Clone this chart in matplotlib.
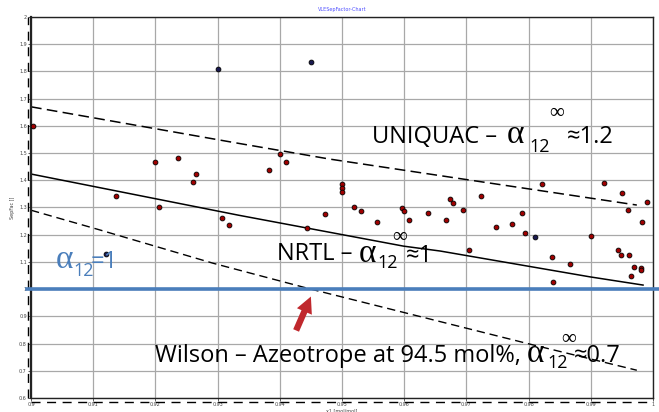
import matplotlib
matplotlib.use("Agg")
import matplotlib.pyplot as plt

# measured separation factors (red points)
meas_x = [0.9003, 0.9137, 0.9200, 0.9205, 0.9237, 0.9260, 0.9266, 0.9307, 0.9319,
          0.9383, 0.9400, 0.9410, 0.9443, 0.9472, 0.9500, 0.9500, 0.9500, 0.9519,
          0.9530, 0.9556, 0.9596, 0.9600, 0.9607, 0.9638, 0.9668, 0.9673, 0.9679,
          0.9695, 0.9704, 0.9724, 0.9747, 0.9773, 0.9789, 0.9794, 0.9821, 0.9838,
          0.9840, 0.9867, 0.9901, 0.9921, 0.9943, 0.9949, 0.9950, 0.9960, 0.9961,
          0.9965, 0.9970, 0.9980, 0.9980, 0.9982, 0.9991]
meas_y = [1.600, 1.343, 1.467, 1.300, 1.483, 1.394, 1.423, 1.262, 1.234,
          1.436, 1.495, 1.468, 1.224, 1.276, 1.387, 1.370, 1.358, 1.300,
          1.288, 1.245, 1.297, 1.287, 1.253, 1.281, 1.253, 1.332, 1.316,
          1.290, 1.143, 1.344, 1.229, 1.240, 1.278, 1.206, 1.385, 1.119,
          1.026, 1.093, 1.194, 1.390, 1.143, 1.127, 1.353, 1.289, 1.124,
          1.049, 1.080, 1.078, 1.070, 1.245, 1.320]

# other points (dark)
dark_x = [0.9120, 0.9300, 0.9450, 0.9810]
dark_y = [1.128, 1.809, 1.833, 1.192]

# model curves
uniquac_x = [0.9, 0.9333, 0.948, 0.9658, 0.9974]
uniquac_y = [1.670, 1.536, 1.478, 1.417, 1.309]
nrtl_x = [0.9, 0.9333, 0.9599, 0.9658, 0.9899, 0.9984]
nrtl_y = [1.423, 1.272, 1.158, 1.140, 1.045, 1.015]
wilson_x = [0.9, 0.911, 0.9293, 0.945, 0.9802, 0.9974]
wilson_y = [1.290, 1.218, 1.095, 1.000, 0.798, 0.702]

xticks = [0.9, 0.91, 0.92, 0.93, 0.94, 0.95, 0.96, 0.97, 0.98, 0.99, 1.0]
xtick_labels = ["0.9", "0.91", "0.92", "0.93", "0.94", "0.95", "0.96", "0.97", "0.98", "0.99", "1"]
yticks = [0.6, 0.7, 0.8, 0.9, 1.0, 1.1, 1.2, 1.3, 1.4, 1.5, 1.6, 1.7, 1.8, 1.9, 2.0]
ytick_labels = ["0.6", "0.7", "0.8", "0.9", "1", "1.1", "1.2", "1.3", "1.4", "1.5",
                "1.6", "1.7", "1.8", "1.9", "2"]

W, H = 659, 412
fig = plt.figure(figsize=(W / 100, H / 100), dpi=100)
L, R, T, B = 31, 653, 17, 398
ax = fig.add_axes([L / W, 1 - B / H, (R - L) / W, (B - T) / H])
ax.set_xlim(0.9, 1.0)
ax.set_ylim(0.6, 2.0)


def px2data(px, py):
    x = 0.9 + (px - L) / (R - L) * 0.1
    y = 0.6 + (B - py) / (B - T) * 1.4
    return x, y


ax.set_xticks(xticks)
ax.set_xticklabels(xtick_labels)
ax.set_yticks(yticks)
ax.set_yticklabels(ytick_labels)
ax.tick_params(labelsize=3.5, colors="#444444", length=2, width=0.6, pad=1)
ax.grid(True, color="#a8a8a8", linewidth=0.9)
ax.set_axisbelow(True)
for s in ax.spines.values():
    s.set_color("#222222")
    s.set_linewidth(1.0)
ax.spines["left"].set_linewidth(1.6)

# dashed frame lines just outside the axes
ax.plot([0.0, 1.0], [-0.011, -0.011], transform=ax.transAxes, clip_on=False,
        color="black", lw=1.0, dashes=(6.5, 4.7))
ax.plot([-0.005, -0.005], [0.0, 1.0], transform=ax.transAxes, clip_on=False,
        color="black", lw=1.0, dashes=(6.5, 4.7))

ax.set_title("VLESepFactor-Chart", fontsize=3.5, color="#5050ff", pad=4)
ax.set_ylabel("SepFac []", fontsize=3.5, color="#444444", labelpad=3)
ax.set_xlabel("x1 [mol/mol]", fontsize=3.5, color="#444444", labelpad=0.5)

# model lines
ax.plot(uniquac_x, uniquac_y, color="black", lw=1.1, dashes=(7, 3.5))
ax.plot(nrtl_x, nrtl_y, color="black", lw=1.1)
ax.plot(wilson_x, wilson_y, color="black", lw=1.0, dashes=(6, 3.5))

# alpha = 1 line
ax.axhline(1.0, xmin=-0.007, xmax=1.01, color="#4a7ebb", lw=2.6, clip_on=False, zorder=4)

ax.scatter(meas_x, meas_y, s=12, c="#a00000", edgecolors="black", linewidths=0.6, zorder=5)
ax.scatter(dark_x, dark_y, s=12, c="#1a1a50", edgecolors="black", linewidths=0.6, zorder=5)

main_font = dict(family=["Open Sans", "DejaVu Sans"], fontsize=17)
alpha_font = dict(family=["Liberation Serif", "DejaVu Serif"], fontsize=24)
sub_font = dict(family=["Open Sans", "DejaVu Sans"], fontsize=13)
inf_font = dict(family=["Liberation Serif", "DejaVu Sans"], fontsize=15)


def put(px, py, s, font, color="black"):
    x, y = px2data(px, py)
    ax.text(x, y, s, ha="left", va="baseline", color=color, zorder=6, **font)


def label(parts, color="black"):
    for px, py, s, font in parts:
        put(px, py, s, font, color)


label([(372, 143, "UNIQUAC –", main_font),
       (507, 143, "α", alpha_font),
       (529, 152, "12", sub_font),
       (549, 118, "∞", inf_font),
       (567, 143, "≈1.2", main_font)])
label([(277, 260, "NRTL –", main_font),
       (359, 262, "α", alpha_font),
       (377, 268, "12", sub_font),
       (392, 242, "∞", inf_font),
       (406, 262, "≈1", main_font)])
label([(155, 362, "Wilson – Azeotrope at 94.5 mol%,", main_font),
       (527, 362, "α", alpha_font),
       (547, 368, "12", sub_font),
       (561, 344, "∞", inf_font),
       (574, 362, "≈0.7", main_font)])
label([(56, 268, "α", alpha_font),
       (73, 276, "12", sub_font),
       (91, 268, "=1", main_font)], color="#4a7ebb")

# red arrow pointing at the azeotrope
ax.annotate("", xy=px2data(312, 294), xytext=px2data(295, 333),
            arrowprops=dict(arrowstyle="simple,head_width=0.9,head_length=0.9,tail_width=0.35",
                            fc="#c0282d", ec="#c0282d", lw=0, mutation_scale=13),
            zorder=7)

fig.savefig("out.png", dpi=100)
